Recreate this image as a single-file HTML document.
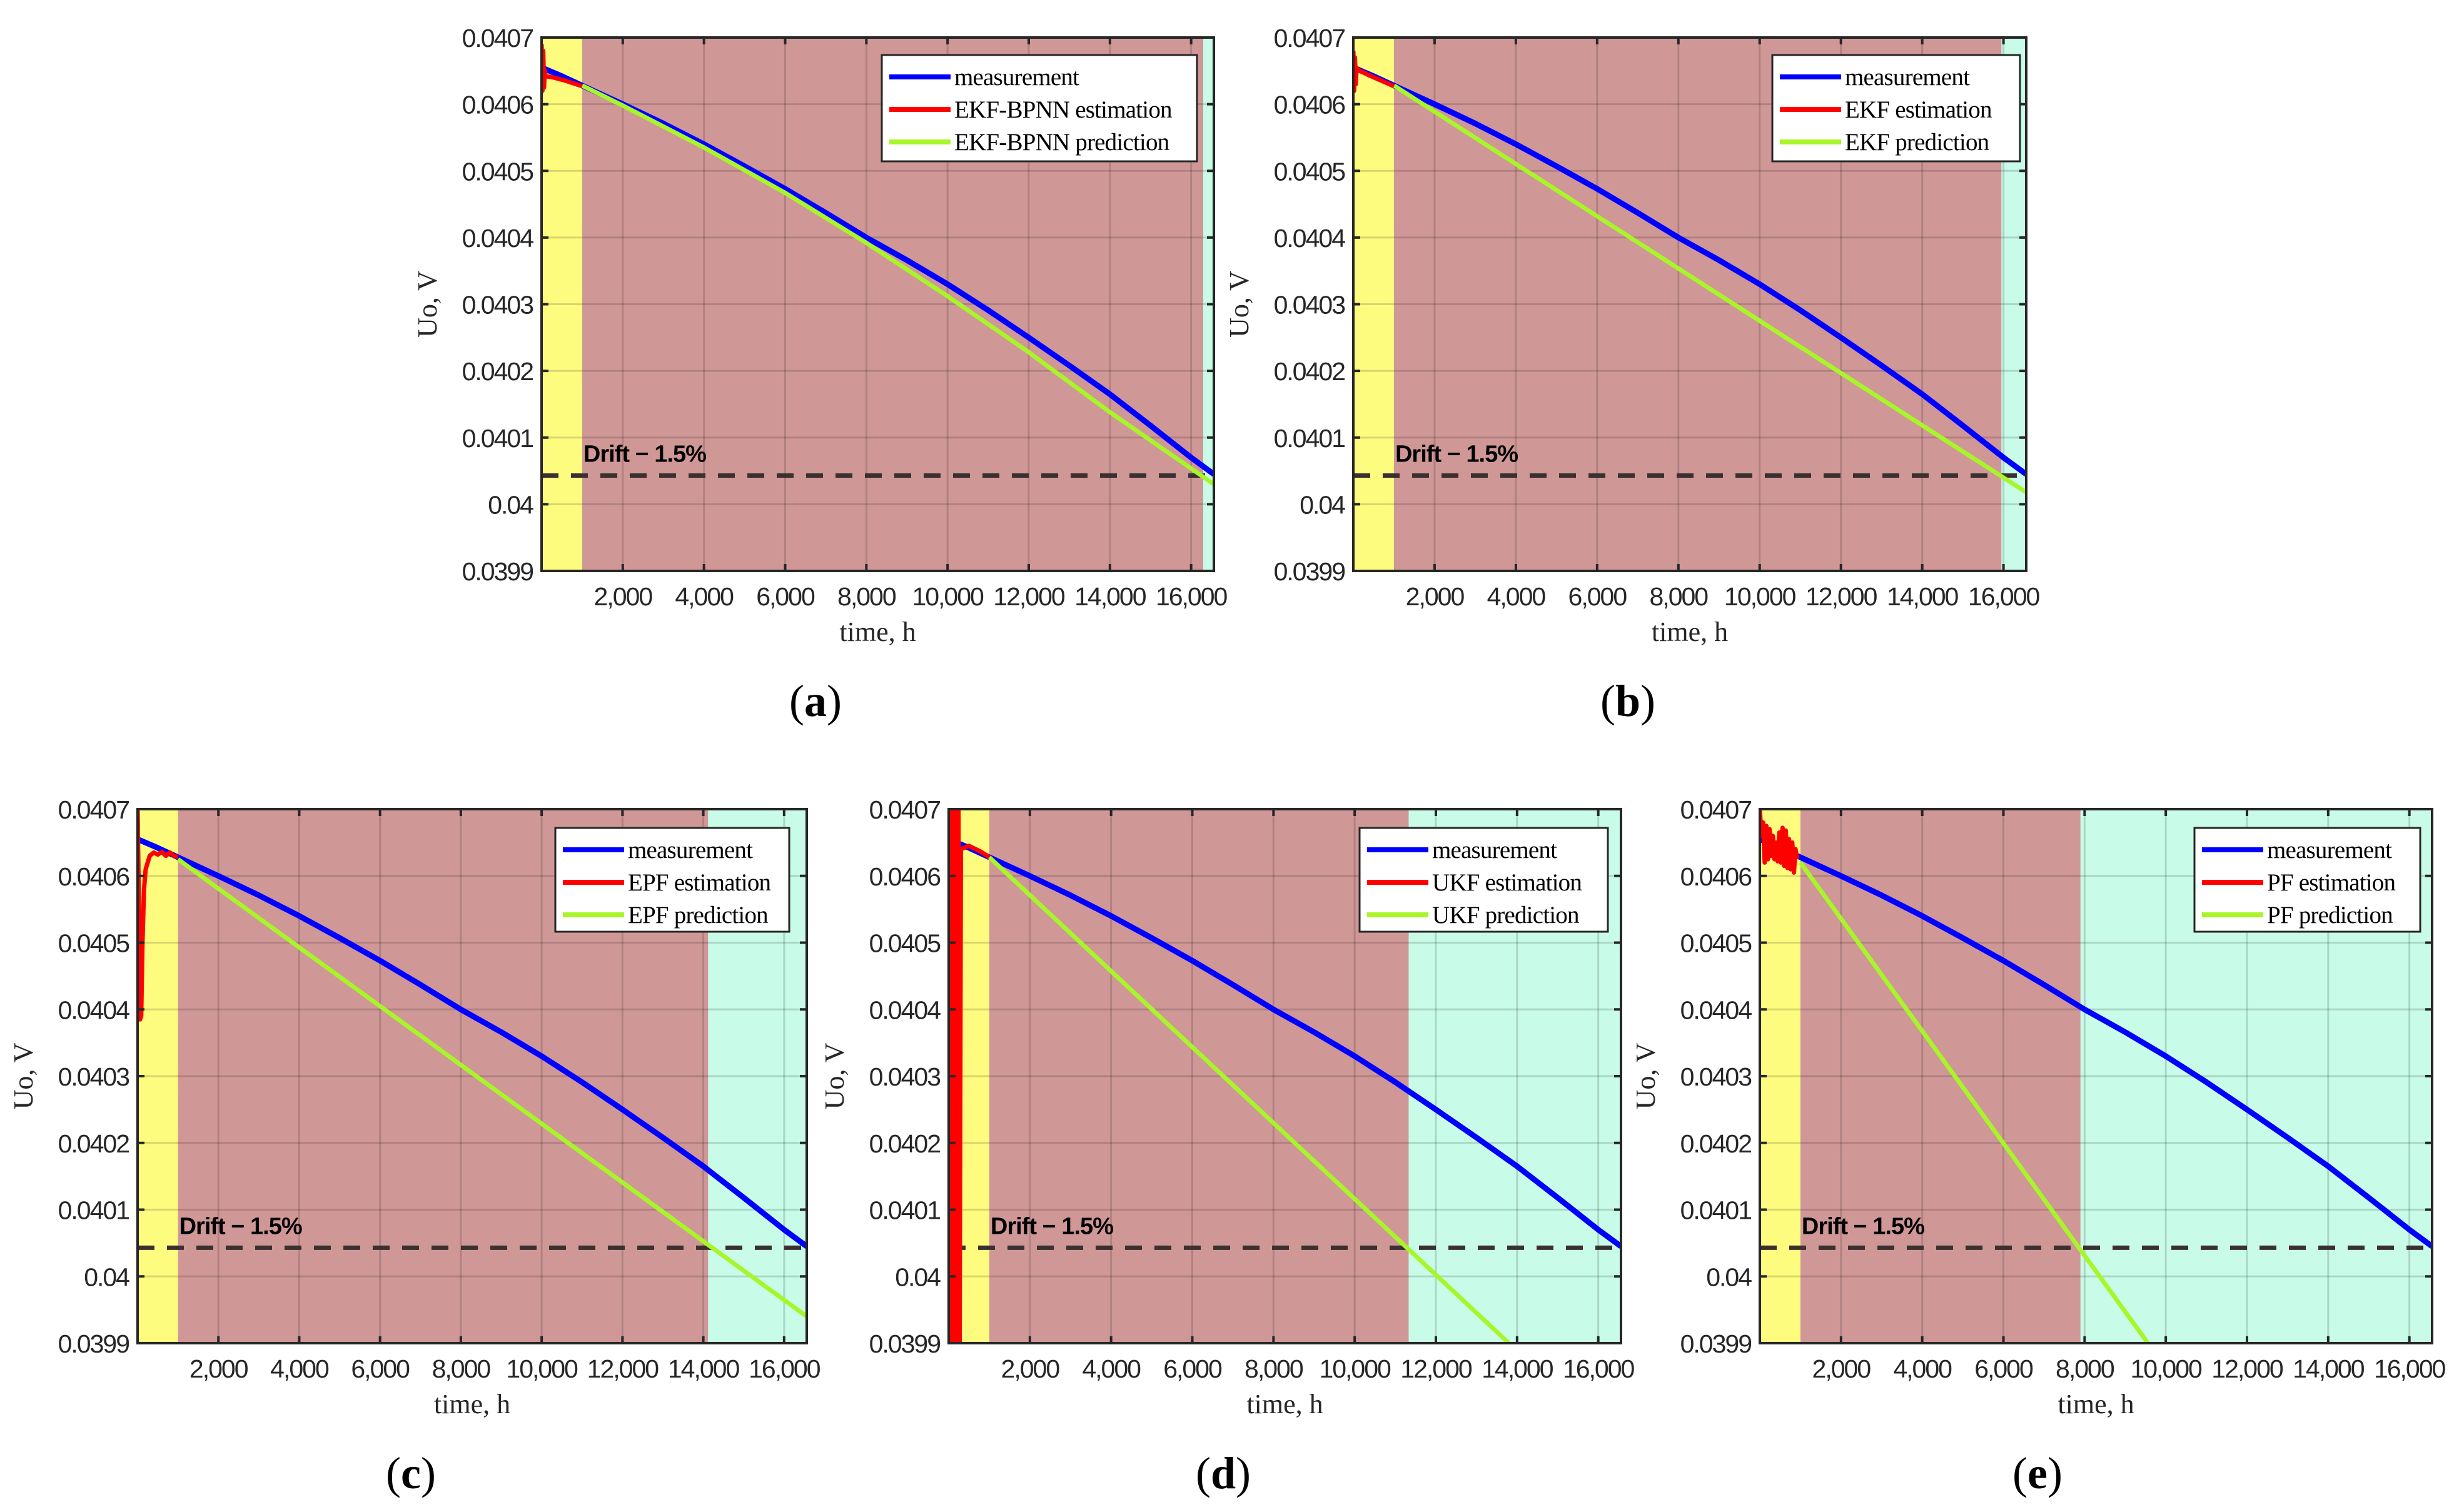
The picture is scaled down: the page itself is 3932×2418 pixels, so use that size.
<!DOCTYPE html>
<html><head><meta charset="utf-8"><style>
html,body{margin:0;padding:0;background:#fff}
svg{display:block}
.tick{font-family:"Liberation Sans",Arial,sans-serif;font-size:41px;letter-spacing:-2px;fill:#262626}
.lab{font-family:"Liberation Serif",serif;font-size:44px;fill:#262626}
.leg{font-family:"Liberation Serif",serif;font-size:39px;letter-spacing:-0.8px;fill:#000}
.cap{font-family:"Liberation Serif",serif;font-size:72px;fill:#000}
.drift{font-family:"Liberation Sans",Arial,sans-serif;font-size:38px;font-weight:bold;letter-spacing:-1px;fill:#000}
</style></head><body>
<svg id="fig" width="3932" height="2418" viewBox="0 0 3932 2418" xmlns="http://www.w3.org/2000/svg"></svg>
<script>
const xTicks = [2000,4000,6000,8000,10000,12000,14000,16000];
const xTickLabels = ["2,000","4,000","6,000","8,000","10,000","12,000","14,000","16,000"];
const yTicks = [0.0399,0.0400,0.0401,0.0402,0.0403,0.0404,0.0405,0.0406,0.0407];
const yTickLabels = ["0.0399","0.04","0.0401","0.0402","0.0403","0.0404","0.0405","0.0406","0.0407"];
const driftLevel = 0.040043;
const measT = [0,500,1000,2000,3000,4000,5000,6000,7000,8000,9000,10000,11000,12000,13000,14000,15000,16000,16560];
const measV = [0.040655,0.040642,0.040628,0.040600,0.040571,0.040540,0.040507,0.040473,0.040437,0.040400,0.040366,0.040330,0.040291,0.040250,0.040208,0.040165,0.040118,0.040070,0.040045];
const panelIds = ["a","b","c","d","e"];
const panelMethods = ["EKF-BPNN","EKF","EPF","UKF","PF"];
const trainEnd = [1000,1000,1000,1000,1000];
const failStart = [16300,15950,14120,11330,7900];
const predA_T = [1000,2000,4000,6000,8000,10000,12000,14000,16560];
const predA_V = [0.040628,0.040598,0.040535,0.040467,0.040392,0.040312,0.040228,0.040138,0.040030];
const predB_T = [1000,16560];
const predB_V = [0.040628,0.040018];
const predC_T = [1000,16560];
const predC_V = [0.040625,0.039940];
const predD_T = [1000,13800];
const predD_V = [0.040628,0.039900];
const predE_T = [1000,9560];
const predE_V = [0.040620,0.039900];
const estA_T = [0,20,40,60,80,100,300,600,1000];
const estA_V = [0.040690,0.040620,0.040680,0.040625,0.040650,0.040642,0.040640,0.040635,0.040627];
const estB_T = [0,20,40,60,80,100,400,1000];
const estB_V = [0.040680,0.040620,0.040670,0.040630,0.040655,0.040652,0.040643,0.040627];
const estC_T = [0,30,60,90,120,160,200,300,400,500,600,700,800,900,1000];
const estC_V = [0.040700,0.040570,0.040385,0.040390,0.040500,0.040580,0.040610,0.040630,0.040635,0.040632,0.040636,0.040630,0.040635,0.040630,0.040628];
const estD_T = [0,30,60,90,120,150,180,210,240,270,300,500,800,1000];
const estD_V = [0.040700,0.039900,0.040700,0.039900,0.040700,0.039900,0.040700,0.039900,0.040700,0.039900,0.040640,0.040645,0.040636,0.040628];
const estE_T = [0,40,80,120,160,200,240,280,320,360,400,440,480,520,560,600,640,680,720,760,800,840,880,920];
const estE_V = [0.040700,0.040660,0.040680,0.040620,0.040675,0.040625,0.040670,0.040630,0.040660,0.040625,0.040650,0.040622,0.040665,0.040620,0.040672,0.040615,0.040668,0.040612,0.040655,0.040610,0.040650,0.040605,0.040640,0.040625];

const predT=[predA_T,predB_T,predC_T,predD_T,predE_T];
const predV=[predA_V,predB_V,predC_V,predD_V,predE_V];
const estT=[estA_T,estB_T,estC_T,estD_T,estE_T];
const estV=[estA_V,estB_V,estC_V,estD_V,estE_V];

const boxes=[
 {L:866,R:1941,T:60,B:913,leg:[1410,88,504,170],cap:[1304,1145]},
 {L:2164,R:3240,T:60,B:913,leg:[2834,88,396,170],cap:[2603,1145]},
 {L:220,R:1290,T:1294,B:2148,leg:[888,1324,374,166],cap:[657,2380]},
 {L:1517,R:2592,T:1294,B:2148,leg:[2174,1324,397,166],cap:[1956,2380]},
 {L:2814,R:3889,T:1294,B:2148,leg:[3509,1324,361,166],cap:[3258,2380]}
];
const XMAX=16560, YMIN=0.0399, YMAX=0.0407;
const NS="http://www.w3.org/2000/svg";
const fig=document.getElementById('fig');
function mk(tag,attrs,parent,text){const e=document.createElementNS(NS,tag);for(const k in attrs)e.setAttribute(k,attrs[k]);if(text!==undefined)e.textContent=text;parent.appendChild(e);return e;}

boxes.forEach((b,i)=>{
  const sx=t=>b.L+(t/XMAX)*(b.R-b.L);
  const sy=v=>b.B-(v-YMIN)/(YMAX-YMIN)*(b.B-b.T);
  const g=mk('g',{},fig);
  
  
  const cid='clip'+i;
  const cp=mk('clipPath',{id:cid},g);mk('rect',{x:b.L,y:b.T,width:b.R-b.L,height:b.B-b.T},cp);
  const r1=mk('rect',{x:b.L,y:b.T,width:sx(trainEnd[i])-b.L,height:b.B-b.T,fill:'#fdfc7f'},g);
  
  
  const r2=mk('rect',{x:sx(trainEnd[i]),y:b.T,width:sx(failStart[i])-sx(trainEnd[i]),height:b.B-b.T,fill:'#d09797'},g);
  
  
  const r3=mk('rect',{x:sx(failStart[i]),y:b.T,width:b.R-sx(failStart[i]),height:b.B-b.T,fill:'#c8fce8'},g);
  
  
  xTicks.forEach(t=>{mk('line',{x1:sx(t),x2:sx(t),y1:b.T,y2:b.B,stroke:'rgba(0,0,0,0.15)','stroke-width':3},g);});
  yTicks.forEach(v=>{mk('line',{x1:b.L,x2:b.R,y1:sy(v),y2:sy(v),stroke:'rgba(0,0,0,0.15)','stroke-width':3},g);});
  const dl=mk('line',{x1:b.L,x2:b.R,y1:sy(driftLevel),y2:sy(driftLevel),stroke:'#3a3030','stroke-width':7,'stroke-dasharray':'27 20'},g);
  
  
  const dt=mk('text',{x:sx(trainEnd[i])+2,y:sy(driftLevel)-22,class:'drift'},g,'Drift \u2212 1.5%');
  
  
  const pts=(T,V)=>T.map((t,k)=>sx(t).toFixed(1)+','+sy(V[k]).toFixed(1)).join(' ');
  const cg=mk('g',{'clip-path':'url(#'+cid+')'},g);
  const m=mk('polyline',{points:pts(measT,measV),fill:'none',stroke:'#0000ff','stroke-width':9,'stroke-linejoin':'round'},cg);
  
  
  const p=mk('polyline',{points:pts(predT[i],predV[i]),fill:'none',stroke:'#a8f52a','stroke-width':7,'stroke-linejoin':'round'},cg);
  
  
  const e=mk('polyline',{points:pts(estT[i],estV[i]),fill:'none',stroke:'#ff0000','stroke-width':7,'stroke-linejoin':'round'},cg);
  
  
  mk('rect',{x:b.L,y:b.T,width:b.R-b.L,height:b.B-b.T,fill:'none',stroke:'#262626','stroke-width':4},g);
  xTicks.forEach((t,k)=>{
    mk('line',{x1:sx(t),x2:sx(t),y1:b.B,y2:b.B-11,stroke:'#262626','stroke-width':4},g);
    mk('line',{x1:sx(t),x2:sx(t),y1:b.T,y2:b.T+11,stroke:'#262626','stroke-width':4},g);
    const tl=mk('text',{x:sx(t),y:b.B+55,class:'tick','text-anchor':'middle'},g,xTickLabels[k]);
    
    
  });
  yTicks.forEach((v,k)=>{
    mk('line',{x1:b.L,x2:b.L+11,y1:sy(v),y2:sy(v),stroke:'#262626','stroke-width':4},g);
    mk('line',{x1:b.R,x2:b.R-11,y1:sy(v),y2:sy(v),stroke:'#262626','stroke-width':4},g);
    const tl=mk('text',{x:b.L-14,y:sy(v)+15,class:'tick','text-anchor':'end'},g,yTickLabels[k]);
    
    
  });
  const xt=mk('text',{x:(b.L+b.R)/2,y:b.B+112,class:'lab','text-anchor':'middle'},g,'time, h');
  
  
  const cy=(b.T+b.B)/2;
  const yt=mk('text',{x:b.L-168,y:cy,class:'lab','text-anchor':'middle',transform:'rotate(-90 '+(b.L-168)+' '+cy+')'},g,'Uo, V');
  
  
  const [lx,ly,lw,lh]=b.leg;
  const lg=mk('g',{},g);
  
  
  mk('rect',{x:lx,y:ly,width:lw,height:lh,fill:'#fff',stroke:'#262626','stroke-width':3},lg);
  const names=['measurement',panelMethods[i]+' estimation',panelMethods[i]+' prediction'];
  const cols=['#0000ff','#ff0000','#a8f52a'];
  names.forEach((n,k)=>{
    const yy=ly+35+k*52;
    const le=mk('g',{},lg);
    
    
    mk('line',{x1:lx+12,x2:lx+110,y1:yy,y2:yy,stroke:cols[k],'stroke-width':8},le);
    mk('text',{x:lx+116,y:yy+13,class:'leg'},le,n);
  });
  const c=mk('text',{x:b.cap[0],y:b.cap[1],class:'cap','text-anchor':'middle'},g);
  
  
  mk('tspan',{},c,'(');
  mk('tspan',{'font-weight':'bold'},c,panelIds[i]);
  mk('tspan',{},c,')');
});
</script>
</body></html>
